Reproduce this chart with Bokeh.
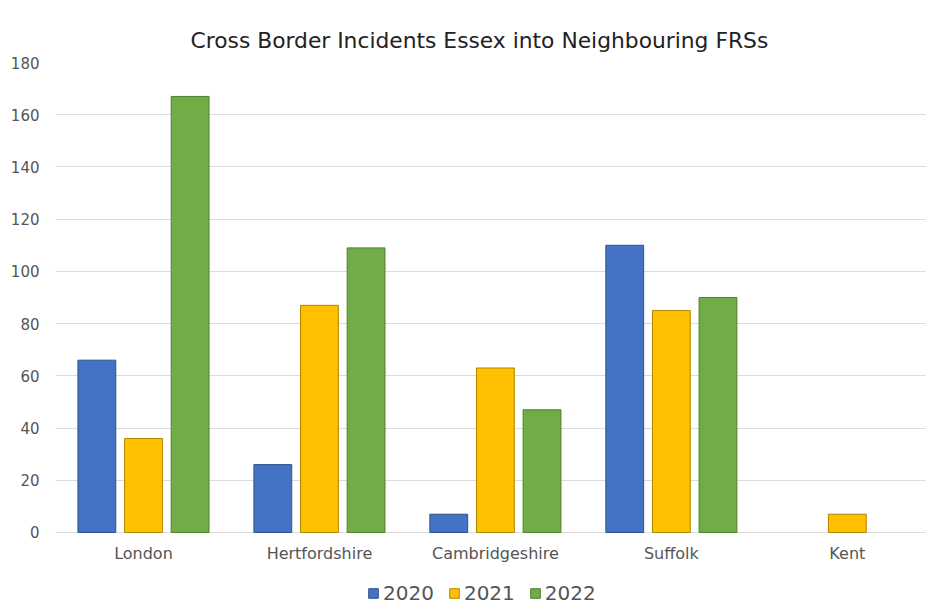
from bokeh.plotting import figure
from bokeh.models import ColumnDataSource, Range1d, Legend, LegendItem, FixedTicker, Title
from bokeh.core.properties import value
from bokeh.embed import file_html
from bokeh.resources import INLINE

categories = ["London", "Hertfordshire", "Cambridgeshire", "Suffolk", "Kent"]
years = ["2020", "2021", "2022"]
v2020 = [66, 26, 7, 110, 0]
v2021 = [36, 87, 63, 85, 7]
v2022 = [167, 109, 47, 90, 0]
y_ticks = [0, 20, 40, 60, 80, 100, 120, 140, 160, 180]

fills = ["#4472C4", "#FFC000", "#70AD47"]
lines = ["#2F528F", "#B08600", "#507E32"]
offsets = [-0.265, 0.0, 0.265]
FONT = "DejaVu Sans"
LABEL_Y = -8.0  # category labels sit just below the zero line

p = figure(width=926, height=605, output_backend="svg", toolbar_location=None,
           x_range=Range1d(0, 4.95), y_range=Range1d(-27.96, 180),
           min_border_left=55, min_border_right=0, min_border_top=62,
           min_border_bottom=0, outline_line_color=None)

p.title = Title(text="Cross Border Incidents Essex into Neighbouring FRSs",
                align="left", vertical_align="top", text_font=FONT,
                text_font_size="21.8px", text_font_style="normal",
                text_color="#222222", offset=135, standoff=16)

renderers = []
for vals, off, fc, lc in zip([v2020, v2021, v2022], offsets, fills, lines):
    xs = [i + 0.5 + off for i, v in enumerate(vals) if v > 0]
    ys = [v for v in vals if v > 0]
    src = ColumnDataSource(dict(x=xs, top=ys))
    r = p.vbar(x="x", top="top", bottom=0, width=0.215, source=src,
               fill_color=fc, line_color=lc, line_width=1)
    renderers.append(r)

cat_src = ColumnDataSource(dict(x=[i + 0.5 for i in range(len(categories))],
                                y=[LABEL_Y] * len(categories), text=categories))
p.text(x="x", y="y", text="text", source=cat_src, text_align="center",
       text_baseline="middle", text_font=value(FONT), text_font_size="16px",
       text_color="#555555")

p.xaxis.visible = False
p.yaxis.ticker = FixedTicker(ticks=y_ticks)
ax = p.yaxis[0]
ax.axis_line_color = None
ax.major_tick_line_color = None
ax.minor_tick_line_color = None
ax.major_label_text_font = FONT
ax.major_label_text_font_size = "15px"
ax.major_label_text_color = "#555555"
ax.major_label_standoff = 10

p.xgrid.grid_line_color = None
p.ygrid.grid_line_color = "#DCDCDC"
p.ygrid.grid_line_width = 1

legend = Legend(items=[LegendItem(label=y, renderers=[r]) for y, r in zip(years, renderers)],
                orientation="horizontal", location=(312, 0),
                label_text_font=FONT, label_text_font_size="20px",
                label_text_color="#555555", glyph_width=12, glyph_height=12,
                spacing=14, label_standoff=4, border_line_color=None,
                padding=0, margin=0, background_fill_alpha=0)
p.add_layout(legend, "center")

open("out.html", "w").write(file_html(p, INLINE))
